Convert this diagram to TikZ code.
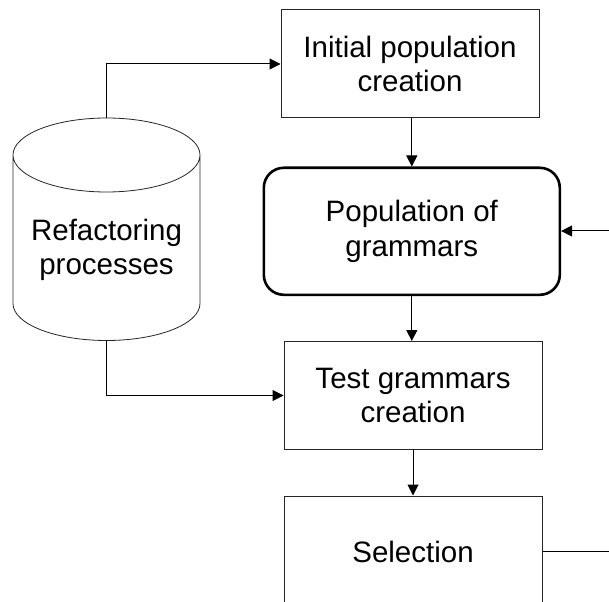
\documentclass[tikz,border=0pt]{standalone}
\usepackage{fontspec}
\setmainfont{Liberation Sans}
\usetikzlibrary{arrows.meta}
\begin{document}
\begin{tikzpicture}[x=1pt,y=-1pt,
  every node/.style={font=\fontsize{29.5}{34.5}\selectfont, align=center, inner sep=0pt},
  plainbox/.style={draw=black!85, line width=1pt, minimum width=258pt, minimum height=108pt},
  roundbox/.style={draw=black, line width=2.6pt, rounded corners=20pt, minimum width=296pt, minimum height=127pt},
  conn/.style={line width=1pt, -{Triangle[length=11pt,width=11pt]}},
  plainline/.style={line width=1pt}]
\clip (0,0) rectangle (609,601);
\fill[white] (0,0) rectangle (609,601);
% nodes
\node[plainbox] (init) at (410,64) {Initial population\\creation};
\node[roundbox] (pop) at (411.8,231.3) {Population of\\grammars};
\node[plainbox] (test) at (413,395.5) {Test grammars\\creation};
\node[plainbox, minimum height=112pt] (sel) at (413,552) {Selection};
% cylinder
\node[minimum width=187pt, minimum height=222.5pt] (cyl) at (106.5,229.5) {};
\draw[line width=0.8pt, draw=black!85]
  (13,155) arc[start angle=180, end angle=360, x radius=93.5pt, y radius=37pt]
  arc[start angle=0, end angle=180, x radius=93.5pt, y radius=37pt]
  -- (13,303.5) arc[start angle=180, end angle=0, x radius=93.5pt, y radius=-37pt]
  -- (200,155);
\node (cyltext) at (106.5,250) {Refactoring\\processes};
% connectors
\coordinate (rin) at (615,231);
\coordinate (rout) at (615,551.7);
\draw[conn] (cyl.north) |- (init.west);
\draw[conn] (cyl.south) |- (test.west);
\draw[conn] (init.south -| pop.north) -- (pop.north);
\draw[conn] (pop.south) -- (pop.south |- test.north);
\draw[conn] (test.south -| sel.north) -- (sel.north);
\draw[conn] (rin) -- (rin -| pop.east);
\draw[plainline] (sel.east |- rout) -- (rout);
\end{tikzpicture}
\end{document}
